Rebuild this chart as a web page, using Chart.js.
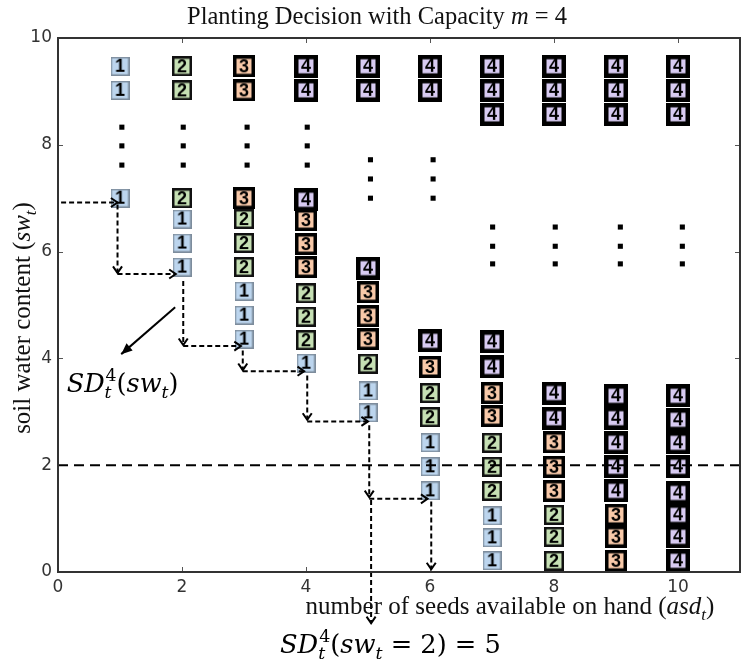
<!DOCTYPE html>
<html><head><meta charset="utf-8">
<script src="https://cdn.jsdelivr.net/npm/chart.js@4/dist/chart.umd.min.js"></script>
<style>html,body{margin:0;padding:0;background:#fff;}canvas{display:block;}</style>
</head><body>
<canvas id="c" width="751" height="669"></canvas>
<script>
// ---------------- data ----------------
const xTicks = [0, 2, 4, 6, 8, 10];
const yTicks = [0, 2, 4, 6, 8, 10];

// planting decision "1"
const seeds1 = [1,1,1, 2,2,2, 3,3,3, 4, 5,5, 6,6,6, 7,7,7];
const sw1    = [9.47,9.02,7.00, 6.61,6.16,5.71, 5.26,4.81,4.36, 3.91, 3.39,2.98, 2.42,1.97,1.52, 1.05,0.64,0.21];
// planting decision "2"
const seeds2 = [2,2,2, 3,3,3, 4,4,4, 5, 6,6, 7,7,7, 8,8,8];
const sw2    = [9.47,9.02,7.00, 6.61,6.16,5.71, 5.22,4.78,4.34, 3.90, 3.35,2.90, 2.42,1.97,1.52, 1.07,0.66,0.21];
// planting decision "3"
const seeds3 = [3,3,3, 4,4,4, 5,5,5, 6, 7,7, 8,8,8, 9,9,9];
const sw3    = [9.47,9.02,7.00, 6.59,6.14,5.71, 5.24,4.79,4.36, 3.84, 3.35,2.92, 2.43,1.97,1.52, 1.07,0.66,0.21];
// planting decision "4"
const seeds4 = [4,4,4, 5,5,5, 6,6,6, 7,7,7,7,7, 8,8,8,8,8, 9,9,9,9,9,9,9,9, 10,10,10,10,10,10,10,10,10,10,10];
const sw4    = [9.47,9.02,6.97, 9.47,9.02,5.69, 9.47,9.02,4.33,
                9.47,9.02,8.57,4.31,3.84,
                9.47,9.02,8.57,3.35,2.88,
                9.47,9.02,8.57,3.30,2.88,2.42,1.97,1.52,
                9.47,9.02,8.57,3.30,2.85,2.42,1.97,1.48,1.07,0.66,0.21];
// ellipsis dots
const dotSeeds = [1.03,1.03,1.03, 2.02,2.02,2.02, 3.05,3.05,3.05, 4.02,4.02,4.02, 5.04,5.04,5.04, 6.05,6.05,6.05, 7.01,7.01,7.01, 8.02,8.02,8.02, 9.07,9.07,9.07, 10.07,10.07,10.07];
const dotSw    = [8.33,7.98,7.62, 8.33,7.98,7.62, 8.33,7.98,7.62, 8.33,7.98,7.62, 7.72,7.36,7.00, 7.72,7.36,7.00, 6.46,6.10,5.77, 6.46,6.10,5.77, 6.46,6.10,5.77, 6.46,6.10,5.77];

// dashed staircase arrows: [x1, y1, x2, y2]
const stepArrows = [
  [0.05,6.92, 0.96,6.92],
  [0.96,6.88, 0.96,5.60],
  [0.96,5.58, 1.90,5.58],
  [2.02,5.45, 2.02,4.25],
  [2.02,4.23, 2.95,4.23],
  [2.98,4.15, 2.98,3.78],
  [2.98,3.76, 3.97,3.76],
  [4.02,3.68, 4.02,2.85],
  [4.02,2.82, 5.00,2.82],
  [5.02,2.75, 5.02,1.40],
  [5.02,1.37, 5.96,1.37],
  [6.02,1.32, 6.02,0.05],
  [5.05,1.35, 5.05,-0.96]
];
// solid pointer arrow
const pointerArrow = [1.89,4.96, 1.02,4.08];
// horizontal reference level of soil water
const refSw = 2;
const refSeeds = [0, 11];

// ---------------- styles ----------------
const boxStyle = {
  1: {w:19, h:19, b:1.5, edge:'#7d8c9c', fill:'#bcd5ee'},
  2: {w:20, h:20, b:2.5, edge:'#111111', fill:'#c6e0b4'},
  3: {w:22, h:22, b:3.5, edge:'#000000', fill:'#f8c9a9'},
  4: {w:24, h:23, b:4.5, edge:'#000000', fill:'#d8cbf2'}
};
function boxImg(n) {
  const s = boxStyle[n];
  const c = document.createElement('canvas');
  c.width = s.w; c.height = s.h;
  const g = c.getContext('2d');
  g.fillStyle = s.edge; g.fillRect(0, 0, s.w, s.h);
  g.fillStyle = s.fill; g.fillRect(s.b, s.b, s.w - 2*s.b, s.h - 2*s.b);
  g.fillStyle = '#000';
  g.font = 'bold 18px "Liberation Sans", Arial, sans-serif';
  g.textAlign = 'center'; g.textBaseline = 'middle';
  g.fillText(String(n), s.w/2, s.h/2 + 1);
  return c;
}
const pts = (xs, ys) => xs.map((x, i) => ({x, y: ys[i]}));

const datasets = [];
datasets.push({data: pts(refSeeds, [refSw, refSw]), showLine:true, borderColor:'#000', borderWidth:2,
  borderDash:[10,6], pointRadius:0, order:0, clip:false});
stepArrows.forEach(a => datasets.push({data: pts([a[0], a[2]], [a[1], a[3]]), showLine:true,
  borderColor:'#000', borderWidth:2, borderDash:[5,3], pointRadius:0, order:0, clip:false}));
datasets.push({data: pts([pointerArrow[0], pointerArrow[2]], [pointerArrow[1], pointerArrow[3]]), showLine:true,
  borderColor:'#000', borderWidth:2, pointRadius:0, order:0, clip:false});
datasets.push({data: pts(dotSeeds, dotSw), pointStyle:'rect', pointRadius:3.6, backgroundColor:'#000', borderWidth:0, order:1});
[[seeds1, sw1, 1], [seeds2, sw2, 2], [seeds3, sw3, 3], [seeds4, sw4, 4]].forEach(([xs, ys, n]) =>
  datasets.push({data: pts(xs, ys), pointStyle: boxImg(n), pointRadius: 11, borderWidth:0, order:2, clip:false}));

// ---------------- helpers ----------------
function mathRuns(ctx, runs, x, y, size, fam, draw) {
  let cx = x; const sm = size * 0.68;
  for (const [t, k] of runs) {
    if (k === 'n' || k === 'i') {
      ctx.font = (k === 'i' ? 'italic ' : '') + size + 'px ' + fam;
      if (draw) ctx.fillText(t, cx, y);
      cx += ctx.measureText(t).width;
    } else if (k === 'sub') {
      ctx.font = 'italic ' + sm + 'px ' + fam;
      if (draw) ctx.fillText(t, cx, y + size*0.22);
      cx += ctx.measureText(t).width;
    } else if (k === 'ss') {
      ctx.font = sm + 'px ' + fam;
      const w1 = ctx.measureText(t[0]).width; if (draw) ctx.fillText(t[0], cx + 1, y - size*0.42);
      ctx.font = 'italic ' + sm + 'px ' + fam;
      const w2 = ctx.measureText(t[1]).width; if (draw) ctx.fillText(t[1], cx, y + size*0.22);
      cx += Math.max(w1, w2) + 1;
    }
  }
  return cx - x;
}
function drawMath(ctx, runs, x, y, size, fam, align) {
  ctx.textAlign = 'left'; ctx.textBaseline = 'alphabetic';
  const w = mathRuns(ctx, runs, 0, 0, size, fam, false);
  const sx = align === 'center' ? x - w/2 : x;
  mathRuns(ctx, runs, sx, y, size, fam, true);
}

const serif = '"Liberation Serif", "Times New Roman", serif';
const mserif = '"DejaVu Serif", serif';

const framePlugin = {
  id: 'frame',
  beforeDatasetsDraw(chart) {
    const {ctx, chartArea: a, scales: {x, y}} = chart;
    ctx.save();
    ctx.strokeStyle = '#555'; ctx.lineWidth = 1;
    ctx.beginPath();
    xTicks.forEach(v => { const p = Math.round(x.getPixelForValue(v)) + 0.5;
      ctx.moveTo(p, a.bottom); ctx.lineTo(p, a.bottom - 5); ctx.moveTo(p, a.top); ctx.lineTo(p, a.top + 5); });
    yTicks.forEach(v => { const p = Math.round(y.getPixelForValue(v)) + 0.5;
      ctx.moveTo(a.left, p); ctx.lineTo(a.left + 5, p); ctx.moveTo(a.right, p); ctx.lineTo(a.right - 5, p); });
    ctx.stroke();
    ctx.restore();
  },
  afterDatasetsDraw(chart) {
    const {ctx, chartArea: a, scales: {x, y}} = chart;
    ctx.save();
    ctx.strokeStyle = '#333'; ctx.lineWidth = 2;
    ctx.strokeRect(a.left, a.top, a.right - a.left, a.bottom - a.top);
    // open arrow heads on dashed steps
    ctx.strokeStyle = '#000'; ctx.lineWidth = 2; ctx.setLineDash([]);
    stepArrows.forEach(s => {
      const x1 = x.getPixelForValue(s[0]), y1 = y.getPixelForValue(s[1]);
      const x2 = x.getPixelForValue(s[2]), y2 = y.getPixelForValue(s[3]);
      const th = Math.atan2(y2 - y1, x2 - x1), L = 8, an = 0.6;
      ctx.beginPath();
      ctx.moveTo(x2 + L*Math.cos(th + Math.PI - an), y2 + L*Math.sin(th + Math.PI - an));
      ctx.lineTo(x2, y2);
      ctx.lineTo(x2 + L*Math.cos(th + Math.PI + an), y2 + L*Math.sin(th + Math.PI + an));
      ctx.stroke();
    });
    // filled head for pointer
    {
      const x1 = x.getPixelForValue(pointerArrow[0]), y1 = y.getPixelForValue(pointerArrow[1]);
      const x2 = x.getPixelForValue(pointerArrow[2]), y2 = y.getPixelForValue(pointerArrow[3]);
      const th = Math.atan2(y2 - y1, x2 - x1), L = 12, an = 0.4;
      ctx.fillStyle = '#000';
      ctx.beginPath();
      ctx.moveTo(x2, y2);
      ctx.lineTo(x2 + L*Math.cos(th + Math.PI - an), y2 + L*Math.sin(th + Math.PI - an));
      ctx.lineTo(x2 + L*Math.cos(th + Math.PI + an), y2 + L*Math.sin(th + Math.PI + an));
      ctx.closePath(); ctx.fill();
    }
    ctx.restore();
  },
  afterDraw(chart) {
    const {ctx, scales: {x, y}} = chart;
    ctx.save();
    ctx.fillStyle = '#111';
    drawMath(ctx, [['Planting Decision with Capacity ', 'n'], ['m', 'i'], [' = 4', 'n']], 377, 24, 24.5, serif, 'center');
    drawMath(ctx, [['number of seeds available on hand (', 'n'], ['asd', 'i'], ['t', 'sub'], [')', 'n']], 510, 614, 25, serif, 'center');
    ctx.save();
    ctx.translate(30, 318); ctx.rotate(-Math.PI/2);
    drawMath(ctx, [['soil water content (', 'n'], ['sw', 'i'], ['t', 'sub'], [')', 'n']], 0, 0, 25, serif, 'center');
    ctx.restore();
    ctx.fillStyle = '#000';
    drawMath(ctx, [['SD', 'i'], [['4', 't'], 'ss'], ['(', 'n'], ['sw', 'i'], ['t', 'sub'], [')', 'n']],
      x.getPixelForValue(0.14), y.getPixelForValue(3.37), 25.5, mserif, 'left');
    drawMath(ctx, [['SD', 'i'], [['4', 't'], 'ss'], ['(', 'n'], ['sw', 'i'], ['t', 'sub'], [' = 2) = 5', 'n']],
      x.getPixelForValue(3.58), y.getPixelForValue(-1.52), 25.7, mserif, 'left');
    ctx.restore();
  }
};

new Chart(document.getElementById('c'), {
  type: 'scatter',
  data: {datasets},
  options: {
    responsive: false, animation: false, devicePixelRatio: 1, events: [],
    layout: {padding: {left: 0, top: 38, right: 5, bottom: 67}},
    plugins: {legend: {display: false}, tooltip: {enabled: false}, title: {display: false}},
    scales: {
      x: {type: 'linear', min: 0, max: 11,
        afterBuildTicks: s => { s.ticks = xTicks.map(v => ({value: v})); },
        afterFit: s => { s.height = 30; },
        grid: {display: false, drawTicks: false}, border: {display: false},
        ticks: {font: {family: '"DejaVu Sans", sans-serif', size: 17}, color: '#333', padding: 5, maxRotation: 0, autoSkip: false}},
      y: {type: 'linear', min: 0, max: 10,
        afterBuildTicks: s => { s.ticks = yTicks.map(v => ({value: v})); },
        afterFit: s => { s.width = 58; },
        grid: {display: false, drawTicks: false}, border: {display: false},
        ticks: {font: {family: '"DejaVu Sans", sans-serif', size: 17}, color: '#333', padding: 6, autoSkip: false}}
    }
  },
  plugins: [framePlugin]
});
</script>
</body></html>
